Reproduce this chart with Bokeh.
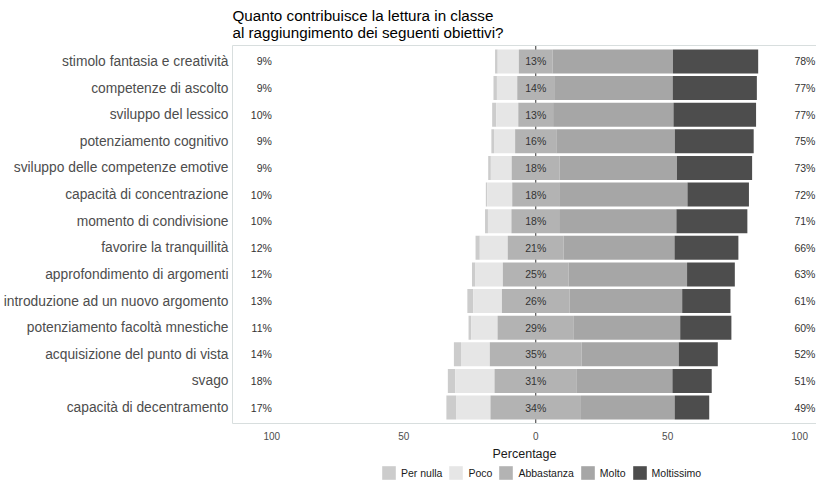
import numpy as np
from bokeh.plotting import figure
from bokeh.layouts import column
from bokeh.models import (Range1d, FixedTicker, LinearAxis, Title, Legend,
                          LegendItem, Span)
from bokeh.embed import file_html
from bokeh.resources import INLINE
from bokeh.core.properties import value

FONT = "Liberation Sans"

categories = [
    "stimolo fantasia e creatività",
    "competenze di ascolto",
    "sviluppo del lessico",
    "potenziamento cognitivo",
    "sviluppo delle competenze emotive",
    "capacità di concentrazione",
    "momento di condivisione",
    "favorire la tranquillità",
    "approfondimento di argomenti",
    "introduzione ad un nuovo argomento",
    "potenziamento facoltà mnestiche",
    "acquisizione del punto di vista",
    "svago",
    "capacità di decentramento",
]
levels = ["Per nulla", "Poco", "Abbastanza", "Molto", "Moltissimo"]
colors = ["#CCCCCC", "#E6E6E6", "#B3B3B3", "#A6A6A6", "#4D4D4D"]

per_nulla = [1.0, 1.3, 1.5, 1.0, 1.0, 0.5, 1.1, 1.6, 1.3, 2.2, 1.0, 2.7, 2.8, 3.8]
poco = [8.0, 7.7, 8.4, 8.0, 7.9, 9.5, 8.9, 10.6, 10.4, 10.9, 10.0, 10.9, 14.9, 12.9]
abbastanza = [12.8, 14.0, 13.2, 15.6, 18.2, 17.8, 18.4, 21.2, 24.9, 25.6, 28.9, 34.8, 31.2, 34.3]
molto = [45.6, 44.9, 45.6, 44.9, 44.4, 48.6, 44.1, 42.0, 44.9, 42.7, 40.3, 36.8, 36.2, 35.5]
moltissimo = [32.3, 31.9, 31.3, 29.9, 28.5, 23.3, 26.9, 24.2, 18.1, 18.3, 19.4, 14.8, 14.9, 13.1]

x_ticks = [-100, -50, 0, 50, 100]
x_tick_labels = ["100", "50", "0", "50", "100"]

title_text = "Quanto contribuisce la lettura in classe\n al raggiungimento dei seguenti obiettivi?"
x_label = "Percentage"

# ---- derived geometry (diverging stack, neutral split at 0) ----
pn = np.array(per_nulla)
po = np.array(poco)
ab = np.array(abbastanza)
mo = np.array(molto)
mt = np.array(moltissimo)
half = ab / 2.0
n = len(categories)
rows = np.arange(1, n + 1)

lefts = [-(half + po + pn), -(half + po), -half, half, half + mo]
rights = [-(half + po), -half, half, half + mo, half + mo + mt]

low_lab = [f"{int(round(v))}%" for v in (pn + po)]
mid_lab = [f"{int(round(v))}%" for v in ab]
high_lab = [f"{int(round(v))}%" for v in (mo + mt)]

BORDER = "#D8DEDE"
TXT = "#4D4D4D"

p = figure(width=816, height=463, output_backend="svg", toolbar_location=None,
           title=None,
           x_range=Range1d(-114.9, 106.4), y_range=Range1d(14.6, 0.4),
           min_border_left=222, min_border_right=0,
           min_border_top=45, min_border_bottom=38)
p.outline_line_color = None
p.xgrid.visible = False
p.ygrid.visible = False
p.background_fill_color = "white"

p.add_layout(Span(location=0, dimension="height", line_color="#555555",
                  line_width=1.2, level="underlay"))

for col, l, r in zip(colors, lefts, rights):
    p.hbar(y=rows, left=l, right=r, height=0.9, fill_color=col,
           line_color=None)

p.text(x=np.full(n, -100.0), y=rows, text=low_lab, text_align="right",
       text_baseline="middle", text_font=value(FONT), text_font_size="10.5px",
       text_color="#333333")
p.text(x=np.zeros(n), y=rows, text=mid_lab, text_align="center",
       text_baseline="middle", text_font=value(FONT), text_font_size="10.5px",
       text_color="#333333")
p.text(x=np.full(n, 106.0), y=rows, text=high_lab, text_align="right",
       text_baseline="middle", text_font=value(FONT), text_font_size="10.5px",
       text_color="#333333")

# x axis
xa = p.xaxis[0]
xa.ticker = FixedTicker(ticks=x_ticks)
xa.major_label_overrides = {t: s for t, s in zip(x_ticks, x_tick_labels)}
xa.axis_line_color = BORDER
xa.major_tick_line_color = None
xa.minor_tick_line_color = None
xa.major_tick_out = 0
xa.major_tick_in = 0
xa.major_label_text_font = FONT
xa.major_label_text_font_size = "10px"
xa.major_label_text_color = TXT
xa.major_label_standoff = 8
xa.axis_label = x_label
xa.axis_label_text_font = FONT
xa.axis_label_text_font_size = "12.5px"
xa.axis_label_text_font_style = "normal"
xa.axis_label_text_color = "#1A1A1A"
xa.axis_label_standoff = 4

# y axis
ya = p.yaxis[0]
ya.ticker = FixedTicker(ticks=[int(v) for v in rows])
ya.major_label_overrides = {int(i): c for i, c in zip(rows, categories)}
ya.axis_line_color = BORDER
ya.major_tick_line_color = None
ya.minor_tick_line_color = None
ya.major_tick_out = 0
ya.major_tick_in = 0
ya.major_label_text_font = FONT
ya.major_label_text_font_size = "13.8px"
ya.major_label_text_color = TXT
ya.major_label_standoff = 4

# top border line
top = LinearAxis(ticker=FixedTicker(ticks=[]), axis_line_color=BORDER,
                 major_tick_line_color=None, minor_tick_line_color=None,
                 major_tick_out=0, major_tick_in=0,
                 major_label_standoff=0, major_label_text_font_size="0px")
p.add_layout(top, "above")
p.add_layout(Title(text=title_text, align="left", standoff=8,
                   text_font=FONT, text_font_size="15.2px",
                   text_line_height=1.05,
                   text_font_style="normal", text_color="#000000"), "above")

# legend strip: key glyphs carry no visible data
lp = figure(width=816, height=18, output_backend="svg", toolbar_location=None,
            x_axis_type=None, y_axis_type=None,
            x_range=Range1d(0, 1), y_range=Range1d(0, 1),
            min_border_left=222, min_border_right=0,
            min_border_top=0, min_border_bottom=0)
lp.outline_line_color = None
lp.xgrid.visible = False
lp.ygrid.visible = False
nan = [float("nan")]
keys = [lp.hbar(y=nan, left=nan, right=nan, height=0.9, fill_color=col,
                line_color=None) for col in colors]
legend = Legend(items=[LegendItem(label=lv, renderers=[r])
                       for lv, r in zip(levels, keys)],
                orientation="horizontal", location=(148, 0),
                glyph_width=17, glyph_height=17, label_height=17,
                label_standoff=4, spacing=5, padding=0, margin=0,
                border_line_color=None, background_fill_alpha=0,
                label_text_font=FONT, label_text_font_size="10.5px",
                label_text_color="#1A1A1A")
lp.add_layout(legend, "center")

layout = column(p, lp, spacing=0)
open("out.html", "w").write(file_html(layout, INLINE))
